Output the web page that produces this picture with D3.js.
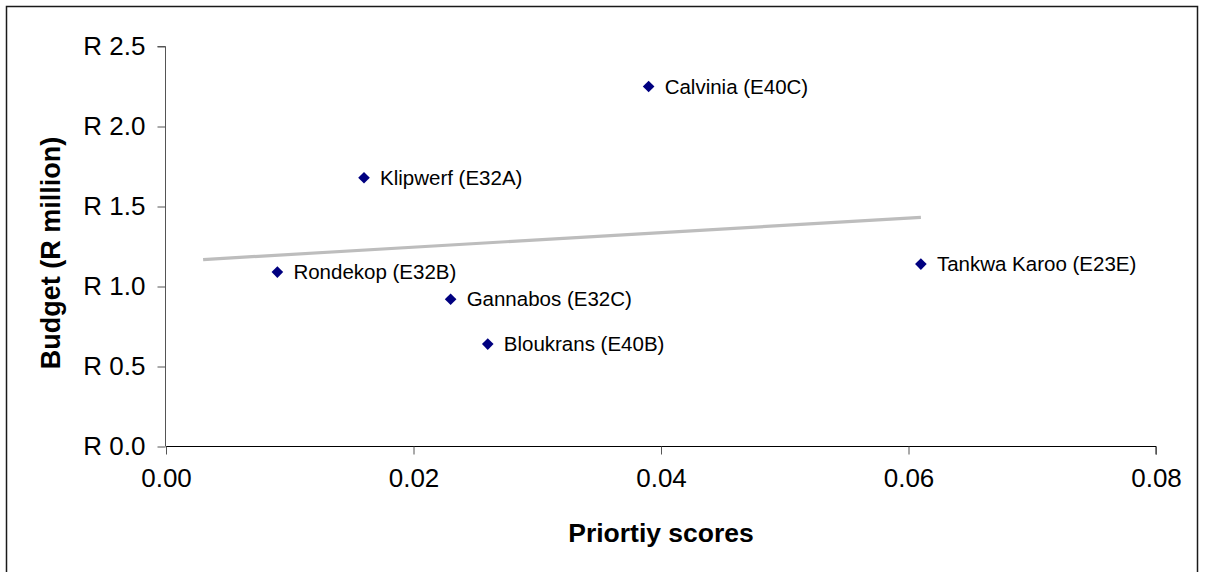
<!DOCTYPE html>
<html>
<head>
<meta charset="utf-8">
<script src="https://cdn.jsdelivr.net/npm/d3@7"></script>
<style>
  html, body { margin: 0; padding: 0; background: #fff; }
  svg { display: block; font-family: Arial, "Liberation Sans", sans-serif; }
</style>
</head>
<body>
<svg id="chart" width="1207" height="572"></svg>
<script>
// Site names, priority scores and budgets (R million)
const sites   = ["Calvinia (E40C)", "Klipwerf (E32A)", "Rondekop (E32B)", "Gannabos (E32C)", "Bloukrans (E40B)", "Tankwa Karoo (E23E)"];
const scores  = [0.039, 0.016, 0.009, 0.023, 0.026, 0.061];
const budgets = [2.25, 1.68, 1.09, 0.92, 0.64, 1.14];

// Axis ticks and the span covered by the linear trend line
const xTicks = [0, 0.02, 0.04, 0.06, 0.08];
const yTicks = [0, 0.5, 1.0, 1.5, 2.0, 2.5];
const trendSpan = [0.003, 0.061];

const svg = d3.select("#chart");

// Outer frame
svg.append("rect")
  .attr("x", 6.5).attr("y", 6.5)
  .attr("width", 1191).attr("height", 570)
  .attr("fill", "none").attr("stroke", "#1a1a1a").attr("stroke-width", 1.5);

const x = d3.scaleLinear().domain([0, 0.08]).range([166, 1156]);
const y = d3.scaleLinear().domain([0, 2.5]).range([446.5, 46.5]);

// Y axis
const yAxis = d3.axisLeft(y)
  .tickValues(yTicks)
  .tickSize(8)
  .tickPadding(12)
  .tickFormat(d => "R " + d3.format(".1f")(d));
const gy = svg.append("g").attr("transform", "translate(165.5,0)").call(yAxis);
gy.select(".domain").attr("stroke", "#555").attr("d", `M-8,${y(2.5)}H0V${y(0)}`);
gy.selectAll(".tick line").attr("stroke", "#555");
gy.selectAll(".tick text")
  .attr("fill", "#000").attr("font-size", "26px")
  .attr("font-family", "Arial, 'Liberation Sans', sans-serif");

// X axis
const xAxis = d3.axisBottom(x)
  .tickValues(xTicks)
  .tickSize(8)
  .tickPadding(14)
  .tickFormat(d3.format(".2f"));
const gx = svg.append("g").attr("transform", "translate(0,446.5)").call(xAxis);
gx.select(".domain").attr("stroke", "#000").attr("d", `M${x(0)},0H${x(0.08)}V8`);
gx.selectAll(".tick line").attr("stroke", "#555");
gx.selectAll(".tick text")
  .attr("fill", "#000").attr("font-size", "26px")
  .attr("font-family", "Arial, 'Liberation Sans', sans-serif");

// Least-squares linear trend
const mx = d3.mean(scores), my = d3.mean(budgets);
const sxy = d3.sum(scores, (s, i) => (s - mx) * (budgets[i] - my));
const sxx = d3.sum(scores, s => (s - mx) * (s - mx));
const slope = sxy / sxx, intercept = my - slope * mx;
svg.append("line")
  .attr("x1", x(trendSpan[0])).attr("y1", y(intercept + slope * trendSpan[0]))
  .attr("x2", x(trendSpan[1])).attr("y2", y(intercept + slope * trendSpan[1]))
  .attr("stroke", "#bdbdbd").attr("stroke-width", 3.2);

// Diamond markers with site labels
const pts = svg.append("g").selectAll("g")
  .data(sites)
  .join("g")
  .attr("transform", (d, i) => `translate(${x(scores[i])},${y(budgets[i])})`);

pts.append("path")
  .attr("d", "M0,-5.8L5.8,0L0,5.8L-5.8,0Z")
  .attr("fill", "#000080");

pts.append("text")
  .attr("x", 16).attr("y", 7)
  .attr("font-size", "20.5px")
  .attr("fill", "#000")
  .text(d => d);

// Axis titles
svg.append("text")
  .attr("x", 661).attr("y", 542)
  .attr("text-anchor", "middle")
  .attr("font-size", "26.5px").attr("font-weight", "bold")
  .text("Priortiy scores");

svg.append("text")
  .attr("transform", "translate(59.5,253) rotate(-90)")
  .attr("text-anchor", "middle")
  .attr("font-size", "27px").attr("font-weight", "bold")
  .text("Budget (R million)");
</script>
</body>
</html>
